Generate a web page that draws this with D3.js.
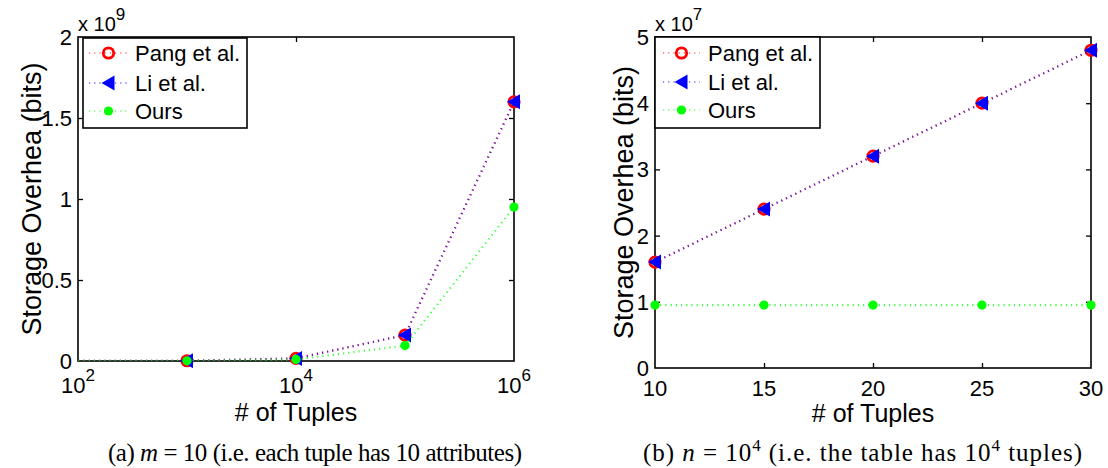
<!DOCTYPE html>
<html><head><meta charset="utf-8">
<script src="https://cdn.jsdelivr.net/npm/d3@7"></script>
<style>
body{margin:0;background:#fff}
svg text{font-family:"Liberation Sans",Arial,Helvetica,sans-serif;fill:#000}
svg text.cap{font-family:"Liberation Serif","Times New Roman",serif}
</style>
</head><body>
<svg id="c" width="1108" height="468"></svg>
<script>
// ---------- data ----------
const seriesNames = ["Pang et al.", "Li et al.", "Ours"];

// (a) m = 10, varying number of tuples
const leftTuples = [1e1, 1e3, 1e4, 1e5, 1e6];
const leftPang   = [1.6e5, 1.6e6, 1.6e7, 1.6e8, 1.6e9];
const leftLi     = [1.6e5, 1.6e6, 1.6e7, 1.6e8, 1.6e9];
const leftOurs   = [9.5e4, 9.5e5, 9.5e6, 9.5e7, 9.5e8];
const leftYTicks = [0, 0.5e9, 1e9, 1.5e9, 2e9];
const leftYTickLabels = ["0", "0.5", "1", "1.5", "2"];
const leftXTicks = [1e2, 1e4, 1e6];
const leftXTickExps = ["2", "4", "6"];
const leftExp = "9";

// (b) n = 10^4, varying number of attributes
const rightAttrs = [10, 15, 20, 25, 30];
const rightPang  = [1.6e7, 2.4e7, 3.2e7, 4.0e7, 4.8e7];
const rightLi    = [1.6e7, 2.4e7, 3.2e7, 4.0e7, 4.8e7];
const rightOurs  = [9.5e6, 9.5e6, 9.5e6, 9.5e6, 9.5e6];
const rightYTicks = [0, 1e7, 2e7, 3e7, 4e7, 5e7];
const rightYTickLabels = ["0", "1", "2", "3", "4", "5"];
const rightXTicks = [10, 15, 20, 25, 30];
const rightExp = "7";

// ---------- drawing ----------
const svg = d3.select("#c");
const colors = ["#ff0000", "#0000ff", "#00ff00"];
const lineOpacity = [0.75, 0.6, 0.75];

function marker(g, i) {
  if (i === 0) {
    g.append("circle").attr("r", 5.2).attr("fill", "none")
      .attr("stroke", colors[0]).attr("stroke-width", 2.8);
  } else if (i === 1) {
    g.append("path").attr("d", "M-7,0L6,-7.5L6,7.5Z").attr("fill", colors[1]);
  } else {
    g.append("circle").attr("r", 4.6).attr("fill", colors[2]);
  }
}

function panel(cfg) {
  const {x, y, xs, series, yTicks, yTickLabels, id} = cfg;
  const [x0, x1] = x.range();
  const [y0, y1] = y.range(); // y0 bottom, y1 top
  const g = svg.append("g");

  g.append("clipPath").attr("id", id).append("rect")
    .attr("x", x0).attr("y", y1).attr("width", x1 - x0).attr("height", y0 - y1);

  // ticks (inward)
  const ytv = yTicks.slice(1, -1);
  g.append("g").attr("transform", `translate(${x0},0)`)
    .call(d3.axisLeft(y).tickValues(ytv).tickSize(-5).tickFormat(""));
  g.append("g").attr("transform", `translate(${x1},0)`)
    .call(d3.axisRight(y).tickValues(ytv).tickSize(-5).tickFormat(""));
  const xtv = cfg.xTicks.slice(1, -1);
  g.append("g").attr("transform", `translate(0,${y0})`)
    .call(d3.axisBottom(x).tickValues(xtv).tickSize(-5).tickFormat(""));
  g.append("g").attr("transform", `translate(0,${y1})`)
    .call(d3.axisTop(x).tickValues(xtv).tickSize(-5).tickFormat(""));
  g.selectAll(".domain").remove();
  g.selectAll(".tick line").attr("stroke", "#000").attr("stroke-width", 1.3);

  // box
  g.append("rect").attr("x", x0).attr("y", y1).attr("width", x1 - x0).attr("height", y0 - y1)
    .attr("fill", "none").attr("stroke", "#000").attr("stroke-width", 1.6);

  // y tick labels
  yTicks.forEach((t, i) => {
    g.append("text").attr("x", x0 - 6).attr("y", y(t)).attr("dy", "0.36em")
      .attr("text-anchor", "end").style("font-size", "22px").text(yTickLabels[i]);
  });

  // x tick labels
  cfg.xTicks.forEach((t, i) => {
    const tx = g.append("text").attr("x", x(t)).attr("y", cfg.xLabelY)
      .attr("text-anchor", "middle").style("font-size", "22px");
    if (cfg.xTickExps) {
      tx.append("tspan").text("10");
      tx.append("tspan").attr("dy", -12).style("font-size", "17px").text(cfg.xTickExps[i]);
    } else {
      tx.text(String(t));
    }
  });

  // exponent label
  const ex = g.append("text").attr("x", x0).attr("y", 31).style("font-size", "20px");
  ex.append("tspan").text("x 10");
  ex.append("tspan").attr("dy", -11).style("font-size", "17px").text(cfg.exp);

  // axis labels
  g.append("text").attr("x", (x0 + x1) / 2).attr("y", cfg.titleY).attr("text-anchor", "middle")
    .style("font-size", "25px").text("# of Tuples");
  g.append("text").attr("transform", `translate(${cfg.yLabelX},${(y0 + y1) / 2}) rotate(-90)`)
    .attr("text-anchor", "middle").style("font-size", "27px").text("Storage Overhea (bits)");

  // series
  const line = d3.line().x(d => x(d[0])).y(d => y(d[1]));
  series.forEach((vals, i) => {
    const pts = xs.map((xv, k) => [xv, vals[k]]);
    g.append("path").attr("d", line(pts)).attr("clip-path", `url(#${id})`)
      .attr("fill", "none").attr("stroke", colors[i]).attr("stroke-width", 2.2)
      .attr("stroke-dasharray", "1.2,4").attr("stroke-opacity", lineOpacity[i]);
    pts.filter(p => p[0] >= x.domain()[0] && p[0] <= x.domain()[1]).forEach(p => {
      marker(g.append("g").attr("transform", `translate(${x(p[0])},${y(p[1])})`), i);
    });
  });

  // legend
  const L = cfg.legend;
  g.append("rect").attr("x", L.x).attr("y", L.y).attr("width", L.w).attr("height", L.h)
    .attr("fill", "#fff").attr("stroke", "#000").attr("stroke-width", 1.6);
  seriesNames.forEach((name, i) => {
    const ry = L.rows[i];
    g.append("line").attr("x1", L.lx0).attr("x2", L.lx1).attr("y1", ry).attr("y2", ry)
      .attr("stroke", colors[i]).attr("stroke-width", 2).attr("stroke-dasharray", "1.2,4")
      .attr("stroke-opacity", 0.45);
    marker(g.append("g").attr("transform", `translate(${(L.lx0 + L.lx1) / 2},${ry})`), i);
    g.append("text").attr("x", L.tx).attr("y", ry).attr("dy", "0.36em")
      .style("font-size", "22px").text(name);
  });
}

panel({
  id: "clipL",
  x: d3.scaleLog().domain([1e2, 1e6]).range([78, 514]),
  y: d3.scaleLinear().domain([0, 2e9]).range([361, 37]),
  xs: leftTuples,
  series: [leftPang, leftLi, leftOurs],
  yTicks: leftYTicks, yTickLabels: leftYTickLabels,
  xTicks: leftXTicks, xTickExps: leftXTickExps,
  xLabelY: 393, titleY: 421, yLabelX: 41, exp: leftExp,
  legend: {x: 83, y: 38, w: 164, h: 90, rows: [53, 83, 111], lx0: 89, lx1: 128, tx: 135}
});

panel({
  id: "clipR",
  x: d3.scaleLinear().domain([10, 30]).range([655, 1091]),
  y: d3.scaleLinear().domain([0, 5e7]).range([368, 37]),
  xs: rightAttrs,
  series: [rightPang, rightLi, rightOurs],
  yTicks: rightYTicks, yTickLabels: rightYTickLabels,
  xTicks: rightXTicks, xTickExps: null,
  xLabelY: 396, titleY: 422, yLabelX: 633, exp: rightExp,
  legend: {x: 655, y: 37, w: 165, h: 91, rows: [53, 82, 110], lx0: 663, lx1: 700, tx: 708}
});

// captions
const capA = svg.append("text").attr("class", "cap").attr("x", 108).attr("y", 461)
  .style("font-size", "25px").attr("textLength", 414).attr("lengthAdjust", "spacing");
capA.append("tspan").text("(a) ");
capA.append("tspan").style("font-style", "italic").text("m");
capA.append("tspan").text(" = 10 (i.e. each tuple has 10 attributes)");

const capB = svg.append("text").attr("class", "cap").attr("x", 643).attr("y", 461)
  .style("font-size", "25px").attr("textLength", 439).attr("lengthAdjust", "spacing");
capB.append("tspan").text("(b) ");
capB.append("tspan").style("font-style", "italic").text("n");
capB.append("tspan").text(" = 10");
capB.append("tspan").attr("dy", -10).style("font-size", "17px").text("4");
capB.append("tspan").attr("dy", 10).text(" (i.e. the table has 10");
capB.append("tspan").attr("dy", -10).style("font-size", "17px").text("4");
capB.append("tspan").attr("dy", 10).text(" tuples)");
</script>
</body></html>
